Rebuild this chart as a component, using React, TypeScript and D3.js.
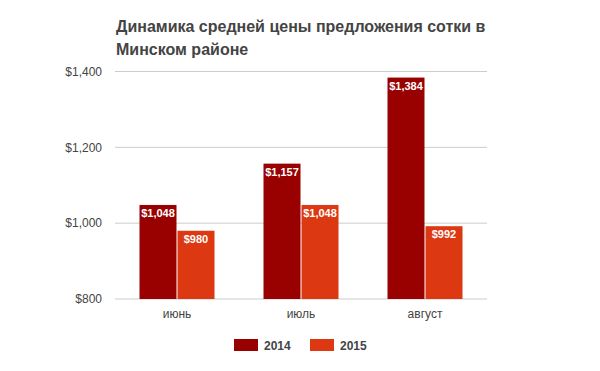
import * as React from "react";
import * as d3 from "d3";

const months = ["июнь", "июль", "август"];
const series = ["2014", "2015"];
const values2014 = [1048, 1157, 1384];
const values2015 = [980, 1048, 992];
const yTicks = [800, 1000, 1200, 1400];

const colors = ["#990000", "#dc3912"];
const W = 600;
const H = 371;
const margin = { top: 71.5, right: 113, bottom: 72, left: 115 };

export default function App() {
    const innerW = W - margin.left - margin.right;
    const innerH = H - margin.top - margin.bottom;

    const x0 = d3.scaleBand().domain(months).range([0, innerW]);
    const x1 = d3.scaleBand().domain(series).range([0, 75]);
    const y = d3.scaleLinear().domain([800, 1400]).range([innerH, 0]);
    const fmt = (v: number) => "$" + d3.format(",")(v);

    const data = [values2014, values2015];

    return (
        <svg width={W} height={H} style={{ position: "absolute", left: 0, top: 0, fontFamily: "Arial, 'Liberation Sans', sans-serif" }}>
            <rect width={W} height={H} fill="#fff" />
            <text x={116} y={32} fontSize={16} fontWeight="bold" fill="#444">
                Динамика средней цены предложения сотки в
            </text>
            <text x={116} y={55} fontSize={16} fontWeight="bold" fill="#444">
                Минском районе
            </text>
            <g transform={`translate(${margin.left},${margin.top})`}>
                {yTicks.map((t) => (
                    <g key={t}>
                        <line x1={0} x2={innerW} y1={y(t)} y2={y(t)} stroke="#ccc" strokeWidth={1} />
                        <text x={-13} y={y(t)} dy="0.35em" textAnchor="end" fontSize={12} fill="#444">
                            {fmt(t)}
                        </text>
                    </g>
                ))}
                {months.map((m, i) => {
                    const gx = (x0(m) ?? 0) + x0.bandwidth() / 2 - 37.5;
                    return (
                        <g key={m} transform={`translate(${gx},0)`}>
                            {series.map((s, j) => {
                                const v = data[j][i];
                                const bx = (x1(s) ?? 0) + (j === 1 ? 0.5 : 0);
                                return (
                                    <g key={s}>
                                        <rect x={bx} y={y(v)} width={37} height={innerH - y(v)} fill={colors[j]} />
                                        <text x={bx + 18.5} y={y(v) + 12} textAnchor="middle" fontSize={11} fontWeight="bold" fill="#fff">
                                            {fmt(v)}
                                        </text>
                                    </g>
                                );
                            })}
                            <text x={37.5} y={innerH + 19} textAnchor="middle" fontSize={12} fill="#444">
                                {m}
                            </text>
                        </g>
                    );
                })}
            </g>
            {series.map((s, j) => (
                <g key={s} transform={`translate(${234 + j * 76},339)`}>
                    <rect width={24} height={12} fill={colors[j]} />
                    <text x={30} y={10.5} fontSize={12} fontWeight="bold" fill="#444">
                        {s}
                    </text>
                </g>
            ))}
        </svg>
    );
}
